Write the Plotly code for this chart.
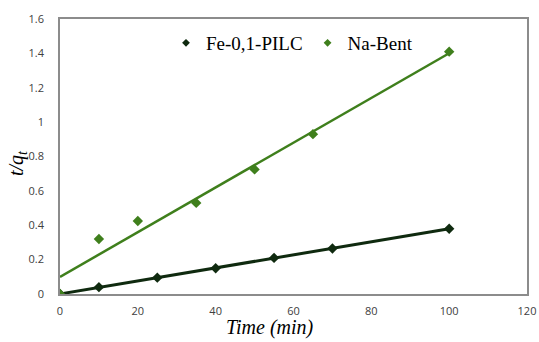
import numpy as np
import plotly.graph_objects as go

fe_time = [0, 10, 25, 40, 55, 70, 100]
fe_tq = [0.0, 0.04, 0.095, 0.15, 0.21, 0.265, 0.38]
na_time = [0, 10, 20, 35, 50, 65, 100]
na_tq = [0.0, 0.32, 0.425, 0.53, 0.725, 0.93, 1.41]

x_ticks = [0, 20, 40, 60, 80, 100, 120]
y_ticks = [0, 0.2, 0.4, 0.6, 0.8, 1, 1.2, 1.4, 1.6]
y_tick_text = ["0", "0.2", "0.4", "0.6", "0.8", "1", "1.2", "1.4", "1.6"]

fe_color = "#0f2a0f"
na_color = "#3f7f1c"

W, H = 539, 342
L, R, T, B = 60, 12, 19, 48

def fit(x, y):
    k, b = np.polyfit(x, y, 1)
    xs = np.array([min(x), max(x)])
    return xs, k * xs + b

fig = go.Figure()
fx, fy = fit(fe_time, fe_tq)
nx, ny = fit(na_time, na_tq)
fig.add_trace(go.Scatter(x=nx, y=ny, mode="lines", line=dict(color=na_color, width=2.5), showlegend=False, hoverinfo="skip"))
fig.add_trace(go.Scatter(x=fx, y=fy, mode="lines", line=dict(color=fe_color, width=3), showlegend=False, hoverinfo="skip"))
fig.add_trace(go.Scatter(x=fe_time, y=fe_tq, mode="markers", name="Fe-0,1-PILC", showlegend=False,
                         marker=dict(symbol="diamond", size=8, color=fe_color)))
fig.add_trace(go.Scatter(x=na_time, y=na_tq, mode="markers", name="Na-Bent", showlegend=False,
                         marker=dict(symbol="diamond", size=8, color=na_color)))
# legend entries
fig.add_trace(go.Scatter(x=[None], y=[None], mode="markers", name="Fe-0,1-PILC",
                         marker=dict(symbol="diamond", size=6, color=fe_color)))
fig.add_trace(go.Scatter(x=[None], y=[None], mode="markers", name="Na-Bent",
                         marker=dict(symbol="diamond", size=6, color=na_color)))

pw, ph = W - L - R, H - T - B
fig.update_layout(
    width=W, height=H,
    margin=dict(l=L, r=R, t=T, b=B, autoexpand=False),
    paper_bgcolor="white", plot_bgcolor="white",
    showlegend=True,
    legend=dict(orientation="h", x=(166 - L) / pw, y=(H - B - 43) / ph, xanchor="left", yanchor="middle",
                font=dict(family="Liberation Serif", size=19, color="black"),
                itemwidth=30, bgcolor="rgba(0,0,0,0)"),
    xaxis=dict(range=[0, 120], tickvals=x_ticks, showgrid=False, zeroline=False,
               showline=True, linecolor="#8c8c8c", linewidth=1.5, mirror=True,
               ticks="", tickfont=dict(family="Open Sans", size=11, color="#404040"),
               ticklabelstandoff=6),
    yaxis=dict(range=[0, 1.6], tickvals=y_ticks, ticktext=y_tick_text, showgrid=False, zeroline=False,
               showline=True, linecolor="#8c8c8c", linewidth=1.5, mirror=True,
               ticks="", tickfont=dict(family="Open Sans", size=11, color="#404040"),
               ticklabelstandoff=12),
)
fig.add_annotation(text="<i>Time (min)</i>", x=(270 - L) / pw, y=(H - B - 327) / ph,
                   xref="paper", yref="paper", xanchor="center", yanchor="middle", showarrow=False,
                   font=dict(family="Liberation Serif", size=20, color="black"))
fig.add_annotation(text="<i>t/q<sub>t</sub></i>", x=(17 - L) / pw, y=(H - B - 163) / ph,
                   xref="paper", yref="paper", xanchor="center", yanchor="middle", showarrow=False,
                   textangle=-90, font=dict(family="Liberation Serif", size=20, color="black"))

fig.write_html("out.html")
